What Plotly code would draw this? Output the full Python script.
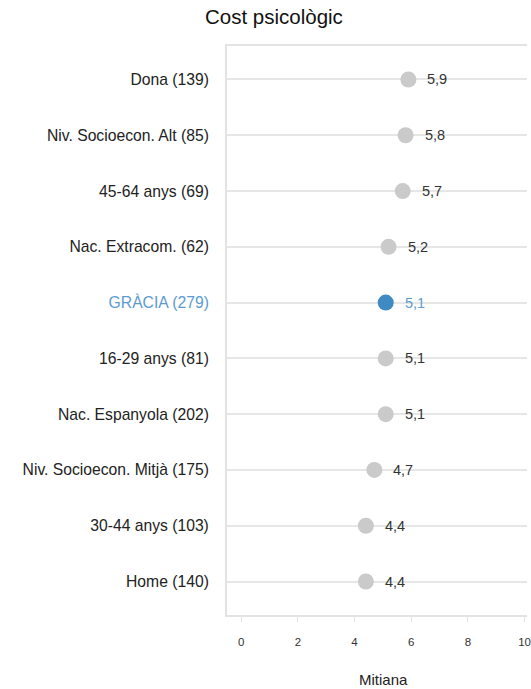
import plotly.graph_objects as go

categories = ["Dona (139)", "Niv. Socioecon. Alt (85)", "45-64 anys (69)", "Nac. Extracom. (62)",
              "GRÀCIA (279)", "16-29 anys (81)", "Nac. Espanyola (202)", "Niv. Socioecon. Mitjà (175)",
              "30-44 anys (103)", "Home (140)"]
values = [5.9, 5.8, 5.7, 5.2, 5.1, 5.1, 5.1, 4.7, 4.4, 4.4]
labels = ["5,9", "5,8", "5,7", "5,2", "5,1", "5,1", "5,1", "4,7", "4,4", "4,4"]
highlight = "GRÀCIA (279)"
x_ticks = [0, 2, 4, 6, 8, 10]

GRAY = "#cacaca"
BLUE = "#3f8ac3"
BLUE_TXT = "#5b9bcf"
FONT = "Liberation Sans, Arial, sans-serif"

n = len(categories)
ypos = [n - 1 - i for i in range(n)]
colors = [BLUE if c == highlight else GRAY for c in categories]
ticktext = [f"<span style='color:{BLUE_TXT}'>{c}</span>" if c == highlight else c for c in categories]

fig = go.Figure()
fig.add_trace(go.Scatter(x=values, y=ypos, mode="markers",
                         marker=dict(size=16, color=colors, line=dict(width=0)),
                         hoverinfo="skip", showlegend=False))

for c, v, y, lab in zip(categories, values, ypos, labels):
    fig.add_annotation(x=v, y=y, text=lab, showarrow=False, xanchor="left", xshift=17,
                       font=dict(family=FONT, size=14.5, color=BLUE_TXT if c == highlight else "#333333"))

fig.add_annotation(xref="paper", yref="paper", x=0.158, y=1.051, text="Cost psicològic",
                   showarrow=False, xanchor="center", yanchor="middle",
                   font=dict(family=FONT, size=20.5, color="#111111"))
fig.add_annotation(xref="paper", yref="paper", x=0.52, y=-0.1142, text="Mitiana",
                   showarrow=False, xanchor="center", yanchor="middle",
                   font=dict(family=FONT, size=15, color="#222222"))

fig.update_layout(
    width=531, height=689,
    margin=dict(l=227, r=0, t=46, b=74, pad=0),
    paper_bgcolor="white", plot_bgcolor="white",
    font=dict(family=FONT),
    xaxis=dict(range=[-0.5, 10.085], tickvals=x_ticks, ticktext=[str(t) for t in x_ticks],
               showgrid=False, zeroline=False, showline=True, linecolor="#e3e3e3", linewidth=2,
               mirror=True, ticks="outside", ticklen=5, tickcolor="#e3e3e3", tickwidth=1,
               ticklabelstandoff=10, ticklabeloverflow="allow",
               tickfont=dict(family=FONT, size=11.5, color="#333333")),
    yaxis=dict(range=[-0.6, 9.6], tickvals=ypos, ticktext=ticktext,
               showgrid=True, gridcolor="#e6e6e6", gridwidth=1.5, zeroline=False,
               showline=True, linecolor="#e3e3e3", linewidth=2, mirror=False,
               ticks="", ticklabelstandoff=13,
               tickfont=dict(family=FONT, size=15.7, color="#222222")),
)

fig.write_html("out.html", config={"displayModeBar": False},
               post_script="document.body.style.margin='0px';document.body.style.overflow='hidden';")
